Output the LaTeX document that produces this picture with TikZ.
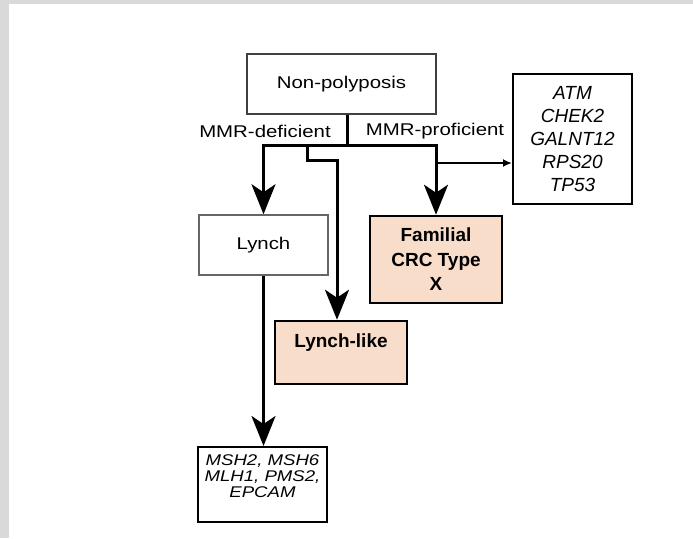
\documentclass[tikz,border=0pt]{standalone}
\usepackage{fontspec}
\setmainfont{Liberation Sans}
\newfontfamily\widesans[FakeStretch=1.2]{Liberation Sans}
\usetikzlibrary{arrows.meta}
\definecolor{peach}{RGB}{248,221,203}
\definecolor{framegray}{RGB}{217,217,217}

\begin{document}
\begin{tikzpicture}[x=1pt,y=-1pt,
  box/.style={draw=black!75, line width=1.5pt, inner sep=0pt, align=center, font=\widesans\fontsize{17}{23}\selectfont},
  hibox/.style={draw, line width=2.5pt, fill=peach, inner sep=0pt, align=center, font=\fontsize{19}{24.5}\selectfont\bfseries},
  genes/.style={draw, line width=2pt, inner sep=0pt, align=center, font=\fontsize{19}{23.2}\selectfont\itshape},
  flow/.style={line width=3pt, -{Stealth[length=30pt,width=24pt,inset=8pt]}}]
\useasboundingbox (0,0) rectangle (693,538);
\fill[framegray] (0,0) rectangle (693,538);
\fill[white] (9,4) rectangle (693,538);

% boxes
\node (np) at (341.5,84) [box, minimum width=189pt, minimum height=60pt] {Non-polyposis};
\node (lynch) at (263.5,245) [box, draw=black!60, minimum width=129pt, minimum height=60pt] {Lynch};
\node (lynchlike) at (341,352.5) [hibox, minimum width=132pt, minimum height=63pt] {Lynch-like\\ \mbox{}};
\node (fam) at (436,259.5) [hibox, minimum width=132pt, minimum height=87pt] {Familial\\CRC Type\\X};
\node (atm) at (572.5,139) [genes, minimum width=119pt, minimum height=130pt] {ATM\\CHEK2\\GALNT12\\RPS20\\TP53};
\node (msh) at (262.5,484.5) [genes, font=\widesans\fontsize{15.5}{15.7}\selectfont\itshape, text depth=17pt, minimum width=129pt, minimum height=75pt] {MSH2, MSH6\\MLH1, PMS2,\\EPCAM};
\node (mmrdef) at (265,131) [font=\widesans\fontsize{17}{23}\selectfont] {MMR-deficient};
\node (mmrpro) at (435,131) [font=\widesans\fontsize{17}{23}\selectfont] {MMR-proficient};

% connectors
\coordinate (split) at (347,145);
\coordinate (jog) at (307,145);
\coordinate (tap) at (437,163);
\draw[line width=3pt] (np.south -| split) -- (split);
\draw[flow] (split) -| (lynch.north);
\draw[flow] (split) -| (fam.north);
\draw[flow] (jog) -- ++(0,15) -| ([xshift=-4pt]lynchlike.north);
\draw[line width=1.8pt, -{Latex[length=9pt,width=8pt]}] (tap) -- (tap -| atm.west);
\draw[flow] (lynch.south) -- (lynch.south |- msh.north);
\end{tikzpicture}
\end{document}
